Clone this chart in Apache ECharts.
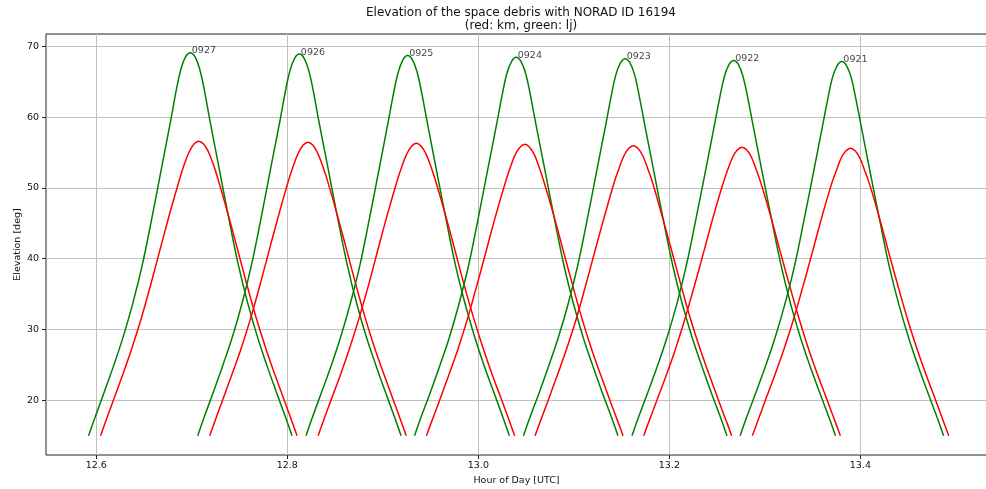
<!DOCTYPE html>
<html>
<head>
<meta charset="utf-8">
<script src="https://cdn.jsdelivr.net/npm/echarts@6/dist/echarts.min.js"></script>
<style>
  html, body { margin: 0; padding: 0; background: #fff; }
  #main { width: 986px; height: 489px; }
</style>
</head>
<body>
<div id="main"></div>
<script>
// pass ids written at the top of each green pass
const passIds = ['0927', '0926', '0925', '0924', '0923', '0922', '0921'];

// culmination time of every pass (hour of day)
const greenPeakHour = [12.6984, 12.8126, 12.9260, 13.0397, 13.1538, 13.2674, 13.3806];
const redPeakHour = [12.7073, 12.8216, 12.9351, 13.0486, 13.1623, 13.2761, 13.3897];

// hours from culmination at which the elevations below were read (passes are symmetric)
const greenOffsetHours = [0, 0.005, 0.01, 0.015, 0.02, 0.03, 0.04, 0.05, 0.06, 0.07, 0.08, 0.09, 0.10, 0.1065];
const redOffsetHours = [0, 0.005, 0.01, 0.015, 0.02, 0.03, 0.04, 0.05, 0.06, 0.07, 0.08, 0.09, 0.10, 0.1029];

// elevation [deg] of each pass at those offsets (green: lj)
const green0927 = [69.1, 68.5, 66.7, 63.6, 59.9, 52.9, 45.9, 39.3, 33.8, 29.1, 25.0, 21.2, 17.5, 15];
const green0926 = [68.9, 68.3, 66.5, 63.4, 59.7, 52.8, 45.8, 39.2, 33.7, 29.0, 25.0, 21.2, 17.5, 15];
const green0925 = [68.7, 68.1, 66.3, 63.2, 59.6, 52.6, 45.7, 39.1, 33.7, 29.0, 24.9, 21.2, 17.5, 15];
const green0924 = [68.45, 67.85, 66.1, 62.95, 59.4, 52.5, 45.6, 39.0, 33.6, 28.9, 24.9, 21.1, 17.5, 15];
const green0923 = [68.25, 67.65, 65.9, 62.75, 59.2, 52.3, 45.4, 38.9, 33.5, 28.9, 24.9, 21.1, 17.5, 15];
const green0922 = [68.0, 67.4, 65.6, 62.5, 59.0, 52.1, 45.3, 38.8, 33.4, 28.8, 24.8, 21.1, 17.5, 15];
const green0921 = [67.85, 67.25, 65.5, 62.35, 58.9, 52.0, 45.2, 38.7, 33.4, 28.8, 24.8, 21.1, 17.5, 15];

// elevation [deg] of each pass at those offsets (red: km)
const red0927 = [56.6, 56.2, 55.1, 53.4, 51.3, 46.6, 41.6, 36.5, 31.7, 27.4, 23.5, 19.8, 16.1, 15];
const red0926 = [56.45, 56.05, 54.95, 53.25, 51.2, 46.5, 41.5, 36.4, 31.6, 27.3, 23.5, 19.8, 16.1, 15];
const red0925 = [56.3, 55.9, 54.8, 53.1, 51.05, 46.4, 41.4, 36.3, 31.6, 27.3, 23.4, 19.8, 16.1, 15];
const red0924 = [56.15, 55.75, 54.7, 52.95, 50.9, 46.3, 41.3, 36.3, 31.5, 27.2, 23.4, 19.7, 16.1, 15];
const red0923 = [55.95, 55.55, 54.5, 52.75, 50.8, 46.1, 41.2, 36.2, 31.4, 27.2, 23.4, 19.7, 16.1, 15];
const red0922 = [55.75, 55.35, 54.3, 52.55, 50.6, 46.0, 41.0, 36.1, 31.4, 27.1, 23.3, 19.7, 16.1, 15];
const red0921 = [55.6, 55.2, 54.15, 52.4, 50.5, 45.9, 40.9, 36.0, 31.3, 27.1, 23.3, 19.7, 16.0, 15];

const greenElev = [green0927, green0926, green0925, green0924, green0923, green0922, green0921];
const redElev = [red0927, red0926, red0925, red0924, red0923, red0922, red0921];

// axes
const xMin = 12.5473, xMax = 13.5326;
const yMin = 12.27, yMax = 71.74;
const xTicks = [12.6, 12.8, 13.0, 13.2, 13.4];
const yTicks = [20, 30, 40, 50, 60, 70];

function passPoints(peakHour, offsets, elev) {
  const pts = [];
  for (let i = offsets.length - 1; i > 0; i--) pts.push([peakHour - offsets[i], elev[i]]);
  for (let i = 0; i < offsets.length; i++) pts.push([peakHour + offsets[i], elev[i]]);
  return pts;
}

const font = 'DejaVu Sans';
const series = [];
for (let i = 0; i < passIds.length; i++) {
  series.push({
    type: 'line',
    data: passPoints(greenPeakHour[i], greenOffsetHours, greenElev[i]),
    smooth: 0.4,
    showSymbol: false,
    lineStyle: { color: '#008000', width: 1.5 },
    z: 3
  });
  series.push({
    type: 'line',
    data: passPoints(redPeakHour[i], redOffsetHours, redElev[i]),
    smooth: 0.4,
    showSymbol: false,
    lineStyle: { color: '#ff0000', width: 1.5 },
    z: 3
  });
}
series.push({
  type: 'scatter',
  symbolSize: 0,
  data: passIds.map((id, i) => [greenPeakHour[i], greenElev[i][0], id]),
  label: {
    show: true,
    position: [1.5, 3],
    align: 'left',
    verticalAlign: 'bottom',
    formatter: p => p.value[2],
    fontFamily: font,
    fontSize: 9.5,
    color: '#111'
  },
  z: 4
});

const chart = echarts.init(document.getElementById('main'));
chart.setOption({
  animation: false,
  backgroundColor: '#fff',
  title: {
    text: 'Elevation of the space debris with NORAD ID 16194\n(red: km, green: lj)',
    left: 516,
    top: 1,
    textAlign: 'center',
    textStyle: { fontFamily: font, fontSize: 12, fontWeight: 'normal', color: '#111', lineHeight: 13.5, align: 'center' }
  },
  grid: {
    left: 46, right: -1, top: 34, bottom: 34,
    outerBoundsMode: 'none',
    show: true, borderColor: '#222', borderWidth: 1
  },
  xAxis: {
    type: 'value',
    min: xMin,
    max: xMax,
    name: 'Hour of Day [UTC]',
    nameLocation: 'middle',
    nameGap: 21,
    nameMoveOverlap: false,
    nameTextStyle: { fontFamily: font, fontSize: 9.5, color: '#111' },
    axisLine: { show: false },
    axisTick: { show: true, length: 4, customValues: xTicks, lineStyle: { color: '#222' } },
    axisLabel: { customValues: xTicks, margin: 6, fontFamily: font, fontSize: 9.5, color: '#111', formatter: v => v.toFixed(1) },
    splitLine: { show: true, lineStyle: { color: '#c0c0c0', width: 1 } }
  },
  yAxis: {
    type: 'value',
    min: yMin,
    max: yMax,
    name: 'Elevation [deg]',
    nameLocation: 'middle',
    nameGap: 23,
    nameMoveOverlap: false,
    nameTextStyle: { fontFamily: font, fontSize: 9.5, color: '#111' },
    axisLine: { show: false },
    axisTick: { show: true, length: 4, customValues: yTicks, lineStyle: { color: '#222' } },
    axisLabel: { customValues: yTicks, margin: 7, fontFamily: font, fontSize: 9.5, color: '#111' },
    splitLine: { show: true, lineStyle: { color: '#c0c0c0', width: 1 } }
  },
  series: series
});
</script>
</body>
</html>
